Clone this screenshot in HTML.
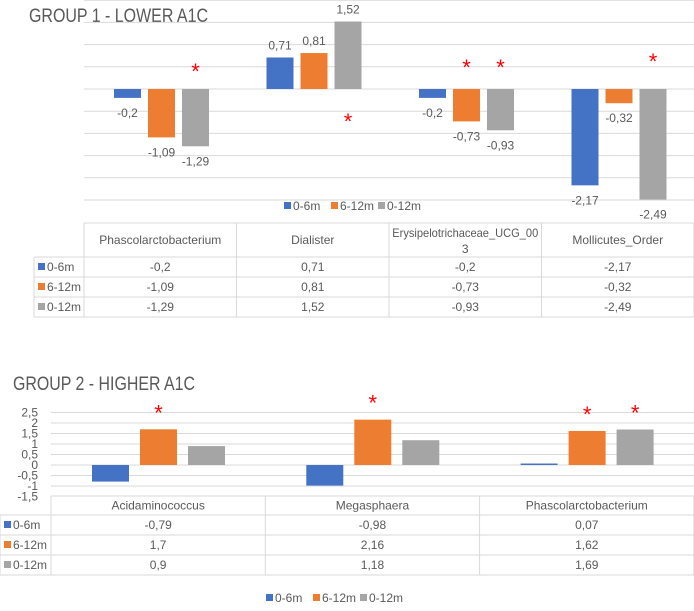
<!DOCTYPE html>
<html><head><meta charset="utf-8"><style>
body{margin:0;background:#fff;width:694px;height:606px;overflow:hidden;font-family:"Liberation Sans",sans-serif}
svg text{font-family:"Liberation Sans",sans-serif;fill:#595959}
</style></head><body>
<svg id="svg" width="694" height="606" viewBox="0 0 694 606" xmlns="http://www.w3.org/2000/svg"></svg>
<script>
const series = ['0-6m','6-12m','0-12m'];
const colors = ['#4472C4','#ED7D31','#A5A5A5'];
const cats1 = ['Phascolarctobacterium','Dialister','Erysipelotrichaceae_UCG_003','Mollicutes_Order'];
const s1a = [-0.2,0.71,-0.2,-2.17];
const s1b = [-1.09,0.81,-0.73,-0.32];
const s1c = [-1.29,1.52,-0.93,-2.49];
const stars1 = [[0,2],[1,2],[2,1],[2,2],[3,2]];
const starDy1 = [-10,40,-14,-14,-20];
const cats2 = ['Acidaminococcus','Megasphaera','Phascolarctobacterium'];
const s2a = [-0.79,-0.98,0.07];
const s2b = [1.7,2.16,1.62];
const s2c = [0.9,1.18,1.69];
const stars2 = [[0,1],[1,1],[2,1],[2,2]];
const ticks2 = [2.5,2,1.5,1,0.5,0,-0.5,-1,-1.5];
const grid1 = [2,1.5,1,0.5,0,-0.5,-1,-1.5,-2,-2.5];

const svg=document.getElementById('svg');
const NS='http://www.w3.org/2000/svg';
function mk(tag,attrs,txt){const e=document.createElementNS(NS,tag);for(const k in attrs)e.setAttribute(k,attrs[k]);if(txt!==undefined)e.textContent=txt;svg.appendChild(e);return e;}
function fmt(v){return String(v).replace('.',',');}

// ---- Chart 1 ----
const y1=v=>89-v*44.4;
const L1=84,W1=152.5;
let t=mk('text',{x:29,y:22,'font-size':19,textLength:179,lengthAdjust:'spacingAndGlyphs'},'GROUP 1 - LOWER A1C');


grid1.forEach(g=>{const l=mk('line',{x1:L1,x2:694,y1:y1(g),y2:y1(g),stroke:'#d9d9d9','stroke-width':1});

});
const d1=[s1a,s1b,s1c];
d1.forEach((s,si)=>s.forEach((v,ci)=>{
 const x=L1+ci*W1+30+si*34, y0=y1(0), yv=y1(v);
 const r=mk('rect',{x:x,y:Math.min(y0,yv),width:27,height:Math.abs(yv-y0),fill:colors[si]});
 
 
 const ly=v>=0?yv-8:yv+19;
 const lb=mk('text',{x:x+13.5,y:ly,'font-size':12,'text-anchor':'middle'},fmt(v));
 
 
}));
stars1.forEach(([ci,si],k)=>{const x=L1+ci*W1+30+si*34+13.5;
 const s=mk('text',{x:x,y:y1(0)+starDy1[k],'font-size':22,'text-anchor':'middle',style:'fill:#ff0000'},'*');
 
 });
// legend 1
series.forEach((n,i)=>{const x=284+i*47;const r=mk('rect',{x:x,y:202,width:7,height:7,fill:colors[i]});
 
 
 const tx=mk('text',{x:x+9,y:210,'font-size':12},n);
 
 });
// table
function table(L,W,cats,data,top,hh,rh,legL,nameP){
 const n=cats.length, R=L+W*n;
 const st={stroke:'#d9d9d9','stroke-width':1};
 const lines=[[L,top,R,top],[legL,top+hh,R,top+hh],[legL,top+hh+rh,R,top+hh+rh],[legL,top+hh+2*rh,R,top+hh+2*rh],[legL,top+hh+3*rh,R,top+hh+3*rh],[legL,top+hh,legL,top+hh+3*rh]];
 for(let c=0;c<=n;c++)lines.push([L+c*W,top,L+c*W,top+hh+3*rh]);
 lines.forEach(a=>{const l=mk('line',Object.assign({x1:a[0],y1:a[1],x2:a[2],y2:a[3]},st));
  
  });
 cats.forEach((c,ci)=>{const cx=L+ci*W+W/2;
  if(c.length>24){const a=mk('text',{x:cx,y:top+hh/2-3,'font-size':12,'text-anchor':'middle',textLength:146,lengthAdjust:'spacingAndGlyphs'},c.slice(0,26));
   
   
   const b=mk('text',{x:cx,y:top+hh/2+13,'font-size':12,'text-anchor':'middle'},c.slice(26));
   
   }
  else{const a=mk('text',{x:cx,y:top+hh/2+4,'font-size':12,'text-anchor':'middle'},c);
   
   }});
 data.forEach((s,si)=>{const ry=top+hh+si*rh;
  const k=mk('rect',{x:legL+4,y:ry+rh/2-4,width:7,height:7,fill:colors[si]});
  
  
  const lt=mk('text',{x:legL+13,y:ry+rh/2+4,'font-size':12},series[si]);
  
  
  s.forEach((v,ci)=>{const c=mk('text',{x:L+ci*W+W/2,y:ry+rh/2+4,'font-size':12,'text-anchor':'middle'},fmt(v));
   
   });});
}
table(L1,W1,cats1,d1,223,34,20,34,'chart1');

// ---- Chart 2 ----
const y2=v=>465-v*21;
const L2=51,W2=214.3;
t=mk('text',{x:13,y:390,'font-size':19,textLength:182,lengthAdjust:'spacingAndGlyphs'},'GROUP 2 - HIGHER A1C');


ticks2.forEach(g=>{if(g>-1.5){const l=mk('line',{x1:L2,x2:694,y1:y2(g),y2:y2(g),stroke:'#d9d9d9','stroke-width':1});
 
 }
 const tl=mk('text',{x:38,y:y2(g)+4,'font-size':12,'text-anchor':'end'},fmt(g));
 
 });
const d2=[s2a,s2b,s2c];
d2.forEach((s,si)=>s.forEach((v,ci)=>{
 const x=L2+ci*W2+41+si*48, y0=y2(0), yv=y2(v);
 const r=mk('rect',{x:x,y:Math.min(y0,yv),width:37,height:Math.max(1.5,Math.abs(yv-y0)),fill:colors[si]});
 
 
}));
stars2.forEach(([ci,si])=>{const v=d2[si][ci];const x=L2+ci*W2+41+si*48+18.5;
 const s=mk('text',{x:x,y:y2(v)-9,'font-size':22,'text-anchor':'middle',style:'fill:#ff0000'},'*');
 
 });
table(L2,W2,cats2,d2,496,19,20,0,'chart2');
series.forEach((n,i)=>{const x=266+i*47;const r=mk('rect',{x:x,y:594,width:7,height:7,fill:colors[i]});
 
 
 const tx=mk('text',{x:x+9,y:602,'font-size':12},n);
 
 });
</script>
</body></html>
